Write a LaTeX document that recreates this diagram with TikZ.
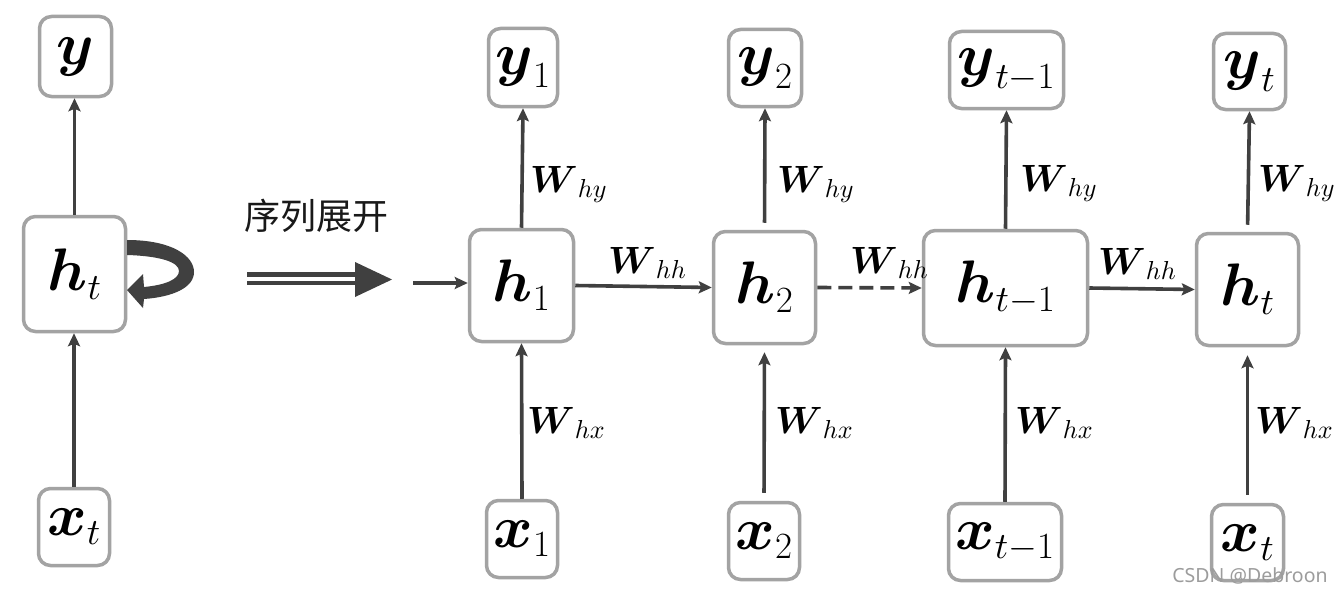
\RequirePackage{fix-cm}
\documentclass[tikz,border=0pt]{standalone}
\usepackage{amsmath}
\usepackage{fontspec}
\DeclareFontFamily{OML}{cmm}{\skewchar\font127}
\DeclareFontShape{OML}{cmm}{m}{it}{<->cmmi10}{}
\DeclareFontShape{OML}{cmm}{b}{it}{<->cmmib10}{}
\DeclareFontFamily{OMS}{cmsy}{\skewchar\font48}
\DeclareFontShape{OMS}{cmsy}{m}{n}{<->cmsy10}{}
\DeclareFontShape{OMS}{cmsy}{b}{n}{<->cmbsy10}{}
\DeclareMathSizes{60}{60}{37}{28}
\DeclareMathSizes{38}{38}{26}{19}
\newfontfamily\cjk{Noto Sans CJK SC}
\newfontfamily\wmfont{Noto Sans}
\usetikzlibrary{arrows.meta}
\definecolor{boxgray}{HTML}{A3A3A3}
\definecolor{arrgray}{HTML}{404040}
\definecolor{wmgray}{HTML}{9C9C9C}
\begin{document}
\begin{tikzpicture}[x=1pt,y=-1pt,
  box/.style={draw=boxgray, line width=3.5pt, rounded corners=12pt, fill=white,
    inner sep=0pt, font=\fontsize{60}{64}\selectfont},
  arr/.style={draw=arrgray, line width=3.6pt, -{Stealth[length=13pt,width=12pt,inset=2.5pt]}},
  wlab/.style={anchor=base west, inner sep=0pt, font=\fontsize{38}{42}\selectfont},
]
\useasboundingbox (0,0) rectangle (1341,594);
\fill[white] (0,0) rectangle (1341,594);

% ---- folded RNN ----
\node[box, minimum width=72pt, minimum height=80pt]  (ly) at (75.5,56.5) {$\boldsymbol{y}$};
\node[box, minimum width=102pt, minimum height=115pt] (lh) at (74.5,274) {$\boldsymbol{h}_t$};
\node[box, minimum width=71pt, minimum height=77pt]  (lx) at (74,527) {$\boldsymbol{x}_t$};
\draw[arr] (lx.north) -- (lx.north |- lh.south);
\draw[arr] (lh.north) -- (lh.north |- ly.south);
% self loop
\fill[arrgray] (127,240) .. controls (172,240) and (194,256) .. (194,272)
  .. controls (194,288) and (172,297) .. (144,299) -- (143,308) -- (127,290)
  -- (143,274) -- (144,287) .. controls (166,285) and (179,279) .. (179,271)
  .. controls (179,262) and (160,256) .. (127,255) -- cycle;

% ---- unfold arrow ----
\node[inner sep=0pt, font=\cjk\fontsize{36}{40}\selectfont, text=black!90] (unf) at (316,216) {序列展开};
\coordinate (da) at (247,278.5);
\coordinate (db) at (357,278.5);
\draw[arrgray, line width=4.5pt, double=white, double distance=4pt] (da) -- (db);
\fill[arrgray] (355,262) -- (392,279.5) -- (355,297) -- cycle;

% ---- unrolled RNN ----
\node[box, minimum width=69pt, minimum height=78pt]   (y1) at (523,67.5) {$\boldsymbol{y}_1$};
\node[box, minimum width=104pt, minimum height=112pt] (h1) at (521.5,285.5) {$\boldsymbol{h}_1$};
\node[box, minimum width=71pt, minimum height=77pt]   (x1) at (522,539) {$\boldsymbol{x}_1$};

\node[box, minimum width=73pt, minimum height=77pt]   (y2) at (765,68) {$\boldsymbol{y}_2$};
\node[box, minimum width=102pt, minimum height=112pt] (h2) at (764.5,287.5) {$\boldsymbol{h}_2$};
\node[box, minimum width=71pt, minimum height=77pt]   (x2) at (764,541) {$\boldsymbol{x}_2$};

\node[box, minimum width=114pt, minimum height=77pt]  (y3) at (1006.5,70) {$\boldsymbol{y}_{t-1}$};
\node[box, minimum width=164pt, minimum height=115pt] (h3) at (1005.5,288) {$\boldsymbol{h}_{t-1}$};
\node[box, minimum width=113pt, minimum height=77pt]  (x3) at (1005,542) {$\boldsymbol{x}_{t-1}$};

\node[box, minimum width=72pt, minimum height=76pt]   (y4) at (1249.5,71.5) {$\boldsymbol{y}_t$};
\node[box, minimum width=102pt, minimum height=112pt] (h4) at (1247.5,289.5) {$\boldsymbol{h}_t$};
\node[box, minimum width=72pt, minimum height=76pt]   (x4) at (1247.5,542.5) {$\boldsymbol{x}_t$};

% vertical connectors
\draw[arr] (x1.north) -- (h1.south);
\draw[arr] (h1.north) -- (y1.south);
\draw[arr, shorten <=8pt, shorten >=7pt] (x2.north) -- (h2.south);
\draw[arr, shorten <=7pt] (h2.north) -- (y2.south);
\draw[arr] (x3.north) -- (h3.south);
\draw[arr] (h3.north) -- (y3.south);
\draw[arr, shorten <=8pt, shorten >=8pt] (x4.north) -- (h4.south);
\draw[arr, shorten <=7pt] (h4.north) -- (y4.south);

% horizontal connectors
\coordinate (in) at (413,283);
\draw[arr] (in) -- (in -| h1.west);
\draw[arr] (h1.east) -- (h2.west);
\draw[arr, dash pattern=on 14pt off 7pt] (h2.east) -- (h3.west);
\draw[arr] (h3.east) -- (h4.west);

% weight labels
\node[wlab] (why1) at (530,192) {$\boldsymbol{W}_{hy}$};
\node[wlab] (why2) at (777,192) {$\boldsymbol{W}_{hy}$};
\node[wlab] (why3) at (1020,191) {$\boldsymbol{W}_{hy}$};
\node[wlab] (why4) at (1258,191) {$\boldsymbol{W}_{hy}$};
\node[wlab] (whx1) at (527,433) {$\boldsymbol{W}_{hx}$};
\node[wlab] (whx2) at (775,433) {$\boldsymbol{W}_{hx}$};
\node[wlab] (whx3) at (1015,433) {$\boldsymbol{W}_{hx}$};
\node[wlab] (whx4) at (1255,433) {$\boldsymbol{W}_{hx}$};
\node[wlab] (whh1) at (608,273) {$\boldsymbol{W}_{hh}$};
\node[wlab] (whh2) at (850,273) {$\boldsymbol{W}_{hh}$};
\node[wlab] (whh3) at (1098,274) {$\boldsymbol{W}_{hh}$};

% watermark
\node[inner sep=0pt, font=\wmfont\fontsize{19.5}{22}\selectfont, text=wmgray] (wm) at (1250,576) {CSDN @Debroon};
\end{tikzpicture}
\end{document}
